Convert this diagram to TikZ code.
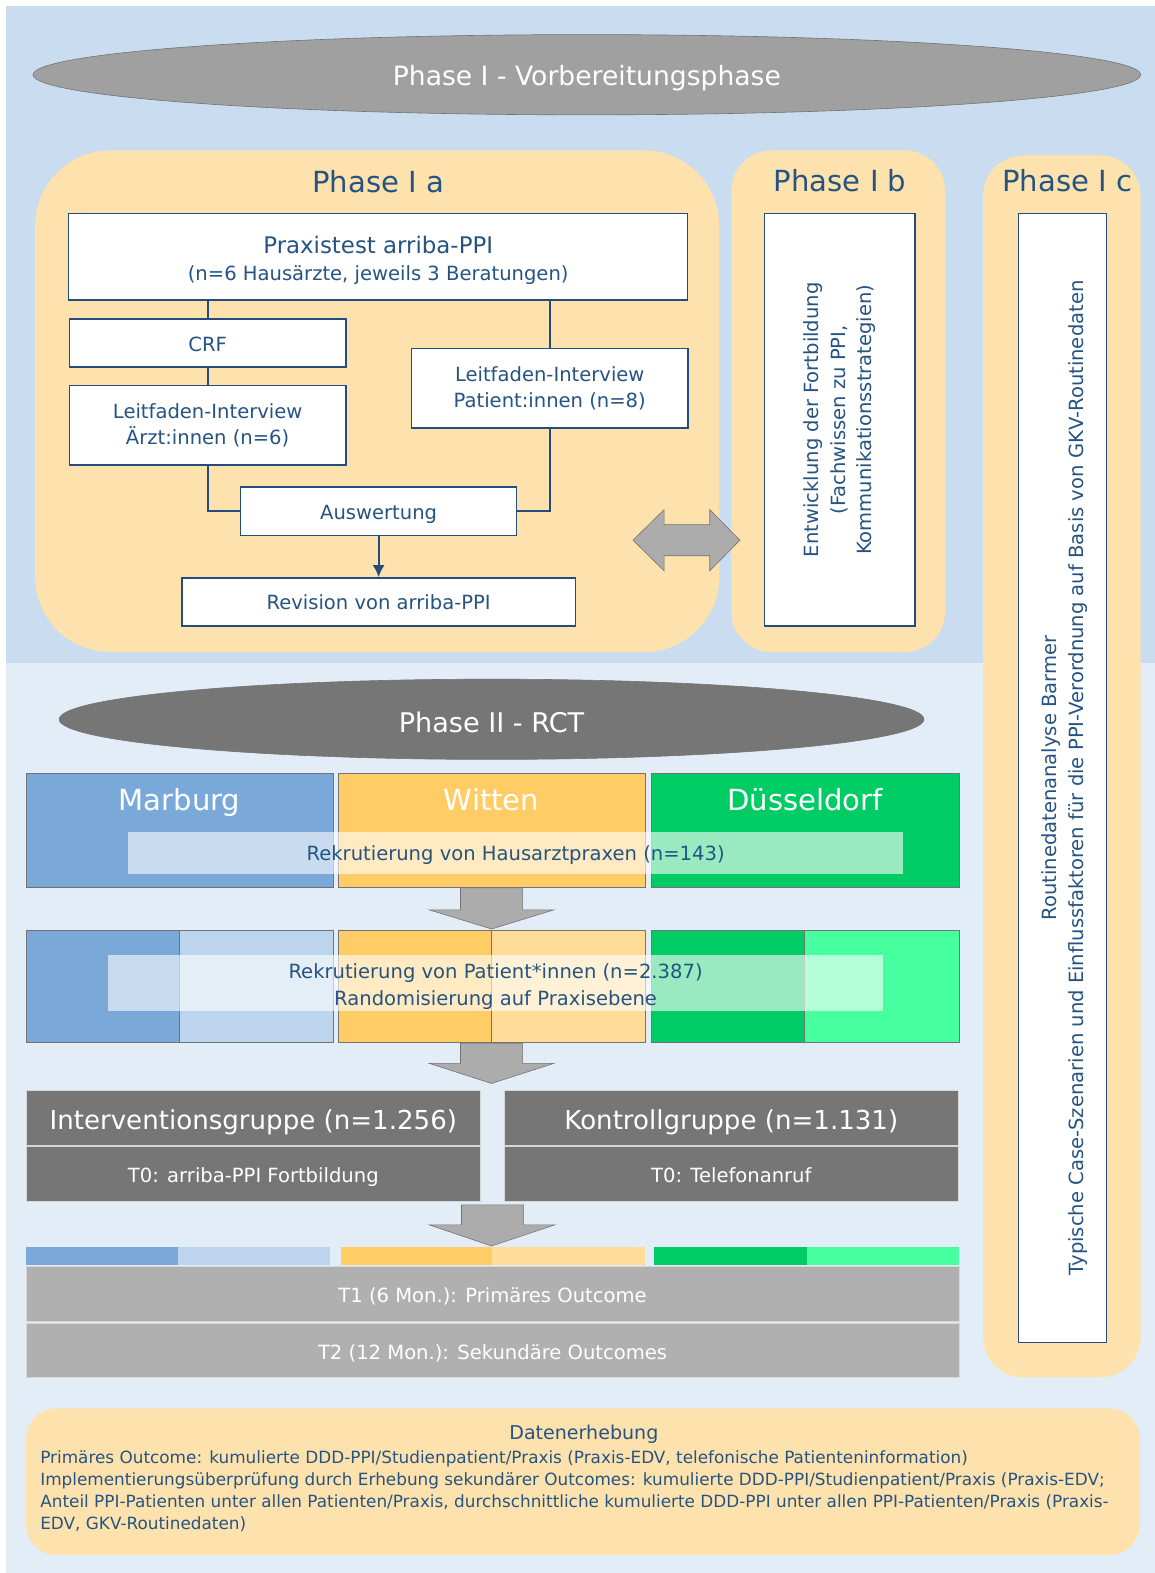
\documentclass[tikz,border=0pt]{standalone}
\usepackage{fontspec}
\setmainfont{DejaVu Sans}
\usetikzlibrary{shapes.geometric,arrows.meta}
\definecolor{bgtop}{RGB}{201,220,240}
\definecolor{bgbot}{RGB}{226,237,248}
\definecolor{orng}{RGB}{254,226,174}
\definecolor{tblue}{RGB}{38,84,130}
\definecolor{bord}{RGB}{36,76,124}
\definecolor{ellA}{RGB}{160,160,160}
\definecolor{ellB}{RGB}{118,118,118}
\definecolor{mblueA}{RGB}{122,169,217}
\definecolor{mblueB}{RGB}{189,213,236}
\definecolor{wyelA}{RGB}{255,204,102}
\definecolor{wyelB}{RGB}{255,221,153}
\definecolor{dgrnA}{RGB}{0,204,102}
\definecolor{dgrnB}{RGB}{70,255,158}
\definecolor{garr}{RGB}{172,172,172}
\definecolor{garrb}{RGB}{115,115,115}
\definecolor{tgray}{RGB}{176,176,176}
\definecolor{lgline}{RGB}{215,215,215}
\newcommand\myfs[2]{\fontsize{#1}{#2}\selectfont}
\begin{document}
\begin{tikzpicture}[x=1pt,y=-1pt,
  tbox/.style={draw=bord, line width=1.4pt, fill=white, text=tblue, align=center, inner sep=0pt, font=\myfs{19.5}{26.5}},
  txt/.style={text=tblue, inner sep=0pt, align=center, font=\myfs{19.5}{26.5}},
  conn/.style={draw=bord, line width=2pt},
  ptitle/.style={text=tblue, inner sep=0pt, font=\myfs{29}{34}},
  ellbox/.style={ellipse, draw=garrb, line width=0.6pt, inner sep=0pt, text=white, font=\myfs{26.5}{32}, text depth=0pt},
  cell/.style={draw=garrb, line width=0.8pt, inner sep=0pt},
  city/.style={text=white, inner sep=0pt, font=\myfs{29}{34}, anchor=base},
  veil/.style={fill=white, fill opacity=0.6, inner sep=0pt},
  grp/.style={fill=ellB, draw=lgline, line width=0.8pt, inner sep=0pt, text=white, text depth=0pt},
  tbar/.style={fill=tgray, draw=lgline, line width=0.8pt, inner sep=0pt, text=white, font=\myfs{19.5}{24}, text height=17.5pt, text depth=0pt},
  garrow/.style={fill=garr, draw=garrb, line width=0.6pt},
  dline/.style={text=tblue, inner sep=0pt, anchor=base west, font=\myfs{16.8}{22}}
]
\useasboundingbox (0,0) rectangle (1151,1568);
\fill[white] (0,0) rectangle (1151,1568);
\fill[bgtop] (6,6) rectangle (1151,661);
\fill[bgbot] (6,661) rectangle (1151,1568);

% Phase I ellipse
\node[ellbox, fill=ellA, minimum width=1104pt, minimum height=80pt, text height=22pt] (ph1) at (585,74.5) {Phase I - Vorbereitungsphase};

% Phase I a
\fill[orng, rounded corners=75pt] (35,150) rectangle (717,650);
\node[ptitle] (tIa) at (377,181) {Phase I a};
\node[tbox, minimum width=617pt, minimum height=86pt] (prax) at (377,256) {};
\node[txt] (praxT) at (377,259.5)
  {{\myfs{22.8}{28}Praxistest arriba-PPI}\\(n=6 Hausärzte, jeweils 3 Beratungen)};
\node[tbox, minimum width=276pt, minimum height=48pt, text height=16pt, text depth=0pt] (crf) at (207,342) {CRF};
\node[tbox, minimum width=276pt, minimum height=79pt] (arzt) at (207,424) {Leitfaden-Interview\\Ärzt:innen (n=6)};
\node[tbox, minimum width=276pt, minimum height=79pt] (pat) at (548,387) {Leitfaden-Interview\\Patient:innen (n=8)};
\node[tbox, minimum width=275pt, minimum height=48pt, text height=17pt, text depth=0pt] (ausw) at (377.4,509.5) {Auswertung};
\node[tbox, minimum width=392pt, minimum height=48pt, text height=16pt, text depth=0pt] (rev) at (377.4,600) {Revision von arriba-PPI};
\draw[conn] (crf.north |- prax.south) -- (crf.north);
\draw[conn] (crf.south) -- (arzt.north);
\draw[conn] (pat.north |- prax.south) -- (pat.north);
\draw[conn] (arzt.south) |- (ausw.west);
\draw[conn] (pat.south) |- (ausw.east);
\draw[conn, -{Latex[length=12pt,width=12pt]}] (ausw.south) -- (rev.north);

% Phase I b
\fill[orng, rounded corners=40pt] (729,150) rectangle (942,650);
\node[ptitle] (tIb) at (837.5,180) {Phase I b};
\node[tbox, rotate=90, minimum width=411pt, minimum height=150pt] (ib) at (837,418.5)
  {Entwicklung der Fortbildung\\(Fachwissen zu PPI,\\Kommunikationsstrategien)};

% double arrow
\filldraw[garrow] (631,538.5) -- (662,508) -- (662,523) -- (707.5,523) -- (707.5,508) -- (737.5,538.5)
  -- (707.5,569) -- (707.5,554) -- (662,554) -- (662,569) -- cycle;

% Phase I c
\fill[orng, rounded corners=40pt] (980,155) rectangle (1137,1373);
\node[ptitle] (tIc) at (1064,180) {Phase I c};
\node[tbox, rotate=90, minimum width=1125pt, minimum height=88pt] (ic) at (1059,775.5) {};
\node[txt, rotate=90] (icT) at (1061,775.5)
  {Routinedatenanalyse Barmer\\Typische Case-Szenarien und Einflussfaktoren für die PPI-Verordnung auf Basis von GKV-Routinedaten};

% Phase II ellipse
\node[ellbox, fill=ellB, minimum width=862pt, minimum height=80pt, font=\myfs{27}{32}, text height=25.5pt] (ph2) at (490,717) {Phase II - RCT};

% Row 1
\node[cell, fill=mblueA, minimum width=306pt, minimum height=114pt] (mar) at (179,828) {};
\node[cell, fill=wyelA, minimum width=306pt, minimum height=114pt] (wit) at (490,828) {};
\node[cell, fill=dgrnA, minimum width=307pt, minimum height=114pt] (dus) at (802.5,828) {};
\node[city] (marT) at (179,808) {Marburg};
\node[city] (witT) at (490,808) {Witten};
\node[city] (dusT) at (802.5,808) {Düsseldorf};
\node[veil, minimum width=772pt, minimum height=42pt] (rek1) at (514,850) {};
\node[txt, anchor=base] (rek1T) at (514,858) {Rekrutierung von Hausarztpraxen (n=143)};

% arrow 1
\filldraw[garrow] (459,885) -- (521,885) -- (521,907) -- (552,907) -- (490,926) -- (428,907) -- (459,907) -- cycle;

% Row 2
\node[cell, fill=mblueA, minimum width=153pt, minimum height=112pt] (marA) at (102.5,983) {};
\node[cell, fill=mblueB, minimum width=153pt, minimum height=112pt] (marB) at (255.5,983) {};
\node[cell, fill=wyelA, minimum width=153pt, minimum height=112pt] (witA) at (413.5,983) {};
\node[cell, fill=wyelB, minimum width=153pt, minimum height=112pt] (witB) at (566.5,983) {};
\node[cell, fill=dgrnA, minimum width=153pt, minimum height=112pt] (dusA) at (725.5,983) {};
\node[cell, fill=dgrnB, minimum width=154pt, minimum height=112pt] (dusB) at (879,983) {};
\node[veil, minimum width=772pt, minimum height=56pt] (rek2) at (494,980) {};
\node[txt, font=\myfs{19.5}{27}] (rek2T) at (494,983) {Rekrutierung von Patient*innen (n=2.387)\\Randomisierung auf Praxisebene};

% arrow 2
\filldraw[garrow] (459,1040) -- (521,1040) -- (521,1060) -- (552,1060) -- (490,1080) -- (428,1060) -- (459,1060) -- cycle;

% Groups
\node[grp, minimum width=453pt, minimum height=55pt, font=\myfs{26}{30}, text height=22pt] (igH) at (252.5,1114.5) {Interventionsgruppe (n=1.256)};
\node[grp, minimum width=453pt, minimum height=55pt, font=\myfs{19.5}{24}, text height=17pt] (igL) at (252.5,1170.5) {T0: arriba-PPI Fortbildung};
\node[grp, minimum width=452pt, minimum height=55pt, font=\myfs{26}{30}, text height=22pt] (kgH) at (729,1114.5) {Kontrollgruppe (n=1.131)};
\node[grp, minimum width=452pt, minimum height=55pt, font=\myfs{19.5}{24}, text height=17pt] (kgL) at (729,1170.5) {T0: Telefonanruf};

% arrow 3
\filldraw[garrow] (460,1201) -- (522,1201) -- (522,1221) -- (553,1221) -- (490,1242) -- (428,1221) -- (460,1221) -- cycle;

% colour bars
\fill[mblueA] (25.7,1242.6) rectangle (177.4,1261);
\fill[mblueB] (177.4,1242.6) rectangle (328.8,1261);
\fill[wyelA] (339.8,1242.6) rectangle (490.2,1261);
\fill[wyelB] (490.2,1242.6) rectangle (642.7,1261);
\fill[dgrnA] (652.4,1242.6) rectangle (804.4,1261);
\fill[dgrnB] (804.4,1242.6) rectangle (956.3,1261);

% T1 / T2
\node[tbar, minimum width=930pt, minimum height=55pt] (t1) at (491,1290) {T1 (6 Mon.): Primäres Outcome};
\node[tbar, minimum width=930pt, minimum height=53.5pt] (t2) at (491,1346.3) {T2 (12 Mon.): Sekundäre Outcomes};

% Datenerhebung
\fill[orng, rounded corners=30pt] (26,1404) rectangle (1136,1550);
\node[text=tblue, inner sep=0pt, font=\myfs{19}{24}] (dtitle) at (582,1430) {Datenerhebung};
\node[dline] (d1) at (40,1458.5) {Primäres Outcome: kumulierte DDD-PPI/Studienpatient/Praxis (Praxis-EDV, telefonische Patienteninformation)};
\node[dline] (d2) at (40,1481) {Implementierungsüberprüfung durch Erhebung sekundärer Outcomes: kumulierte DDD-PPI/Studienpatient/Praxis (Praxis-EDV;};
\node[dline] (d3) at (40,1503) {Anteil PPI-Patienten unter allen Patienten/Praxis, durchschnittliche kumulierte DDD-PPI unter allen PPI-Patienten/Praxis (Praxis-};
\node[dline] (d4) at (40,1525) {EDV, GKV-Routinedaten)};
\end{tikzpicture}
\end{document}
